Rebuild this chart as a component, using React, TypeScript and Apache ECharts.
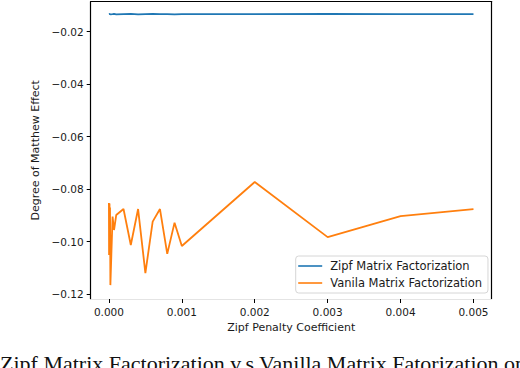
import React, { useEffect, useRef } from "react";
import * as echarts from "echarts";

const penaltyCoefficients = [0, 0.000002, 0.000004, 0.000006, 0.000008, 0.00001, 0.000015, 0.00002, 0.00005, 0.00007, 0.0001, 0.0002, 0.0003, 0.0004, 0.0005, 0.0006, 0.0007, 0.0008, 0.0009, 0.001, 0.002, 0.003, 0.004, 0.005];
const zipfValues = [-0.0133, -0.0134, -0.0132, -0.0133, -0.0134, -0.0132, -0.0133, -0.0134, -0.0133, -0.0132, -0.0134, -0.0133, -0.0132, -0.0134, -0.0133, -0.0132, -0.0133, -0.0133, -0.0134, -0.0133, -0.0133, -0.0132, -0.0133, -0.0133];
const vanillaValues = [-0.0853, -0.1051, -0.0858, -0.1046, -0.0855, -0.104, -0.087, -0.1166, -0.0905, -0.0956, -0.0899, -0.0876, -0.1013, -0.0876, -0.112, -0.0924, -0.0876, -0.1047, -0.0928, -0.1017, -0.0773, -0.0983, -0.0903, -0.0876];
const xTicks = [0, 0.001, 0.002, 0.003, 0.004, 0.005];
const yTicks = [-0.12, -0.1, -0.08, -0.06, -0.04, -0.02];
const seriesNames = ["Zipf Matrix Factorization", "Vanila Matrix Factorization"];
const caption = "Zipf Matrix Factorization v.s Vanilla Matrix Fatorization on";

const X_MIN = -0.00025;
const X_MAX = 0.00525;
const Y_MIN = -0.1219;
const Y_MAX = -0.00856;

const FONT = "DejaVu Sans";

export default function App() {
  const ref = useRef<HTMLDivElement>(null);
  useEffect(() => {
    if (!ref.current) return;
    const chart = echarts.init(ref.current, null, { renderer: "svg" });
    const fmtY = (v: number) => v.toFixed(2).replace("-", "\u2212");
    const fmtX = (v: number) => v.toFixed(3);
    chart.setOption({
      animation: false,
      backgroundColor: "#ffffff",
      grid: { left: 90.7, right: 28.3, top: 1.7, bottom: 69, containLabel: false },
      xAxis: [
        {
          type: "value",
          min: X_MIN,
          max: X_MAX,
          name: "Zipf Penalty Coefficient",
          nameLocation: "middle",
          nameGap: 21,
          nameTextStyle: { fontFamily: FONT, fontSize: 11, color: "#1a1a1a" },
          axisLine: { show: true, onZero: false, lineStyle: { color: "#e4e4e4", width: 1.2 } },
          axisTick: { show: true, length: 4, inside: false, customValues: xTicks, lineStyle: { color: "#000", width: 1 } },
          axisLabel: { customValues: xTicks, formatter: fmtX, margin: 7, fontFamily: FONT, fontSize: 10.5, color: "#1a1a1a" },
          splitLine: { show: false },
        },
        {
          type: "value",
          position: "top",
          min: X_MIN,
          max: X_MAX,
          axisLine: { show: true, onZero: false, lineStyle: { color: "#000", width: 1.2 } },
          axisTick: { show: false },
          axisLabel: { show: false },
          splitLine: { show: false },
        },
      ],
      yAxis: [
        {
          type: "value",
          min: Y_MIN,
          max: Y_MAX,
          name: "Degree of Matthew Effect",
          nameLocation: "middle",
          nameGap: 48,
          nameTextStyle: { fontFamily: FONT, fontSize: 11, color: "#1a1a1a" },
          axisLine: { show: true, onZero: false, lineStyle: { color: "#000", width: 1.2 } },
          axisTick: { show: true, length: 4, customValues: yTicks, lineStyle: { color: "#000", width: 1 } },
          axisLabel: { customValues: yTicks, formatter: fmtY, margin: 7, fontFamily: FONT, fontSize: 10.5, color: "#1a1a1a" },
          splitLine: { show: false },
        },
        {
          type: "value",
          position: "right",
          min: Y_MIN,
          max: Y_MAX,
          axisLine: { show: true, onZero: false, lineStyle: { color: "#000", width: 1.2 } },
          axisTick: { show: false },
          axisLabel: { show: false },
          splitLine: { show: false },
        },
      ],
      legend: {
        orient: "vertical",
        left: 295.7,
        top: 256,
        backgroundColor: "#ffffff",
        borderColor: "#d6d6d6",
        borderWidth: 1,
        borderRadius: 3,
        padding: [3, 6, 3, 2.5],
        itemGap: 3,
        itemWidth: 24,
        itemHeight: 1.6,
        icon: "rect",
        data: seriesNames,
        textStyle: { fontFamily: FONT, fontSize: 11.5, color: "#1a1a1a", lineHeight: 14, padding: [0, 0, 0, 3] },
      },
      series: [
        {
          name: seriesNames[0],
          type: "line",
          showSymbol: false,
          color: "#1f77b4",
          lineStyle: { width: 1.6, color: "#1f77b4" },
          data: penaltyCoefficients.map((x, i) => [x, zipfValues[i]]),
        },
        {
          name: seriesNames[1],
          type: "line",
          showSymbol: false,
          color: "#ff7f0e",
          lineStyle: { width: 1.8, color: "#ff7f0e" },
          data: penaltyCoefficients.map((x, i) => [x, vanillaValues[i]]),
        },
      ],
      graphic: [
        {
          type: "text",
          left: 0,
          top: 352,
          style: { text: caption, fontFamily: "Liberation Serif", fontSize: 22, fill: "#111" },
        },
      ],
    });
    return () => chart.dispose();
  }, []);
  return <div ref={ref} style={{ position: "absolute", left: 0, top: 0, width: 520, height: 368 }} />;
}
